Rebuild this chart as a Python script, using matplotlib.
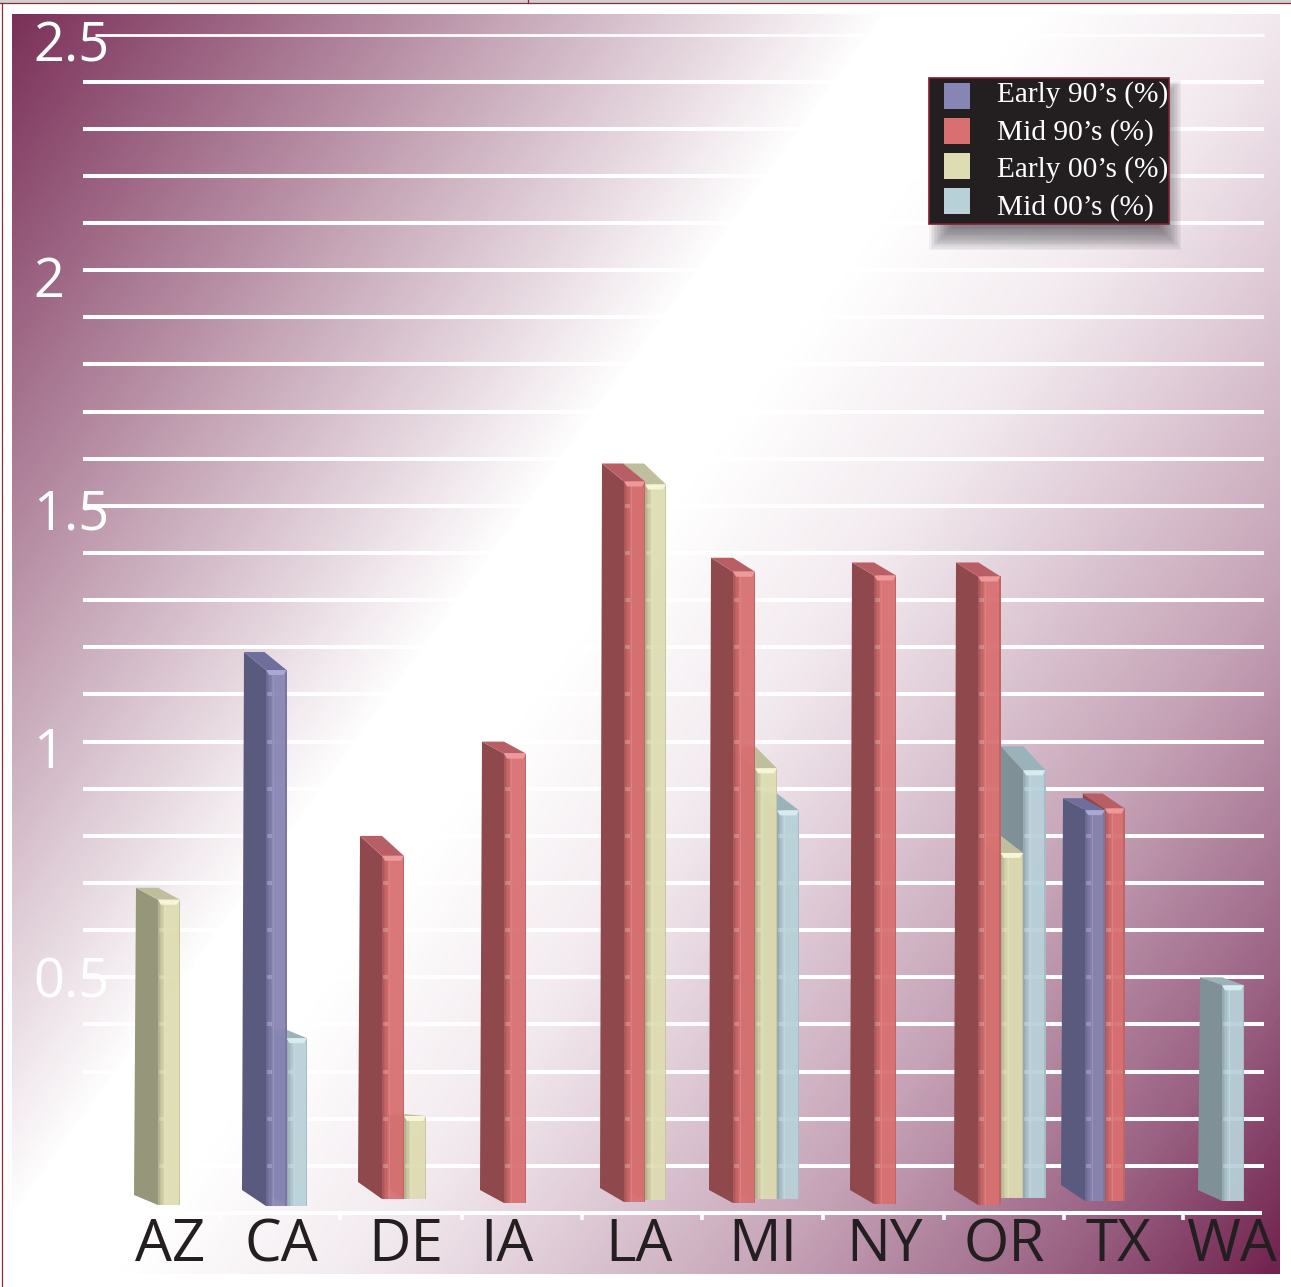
import numpy as np
import matplotlib
matplotlib.use('Agg')
import matplotlib.pyplot as plt
from matplotlib.colors import LinearSegmentedColormap, to_rgb
from matplotlib.patches import Polygon, Rectangle

W, H = 1291, 1287
PX_PER_UNIT = 471.4
ZERO_PX = 1213

states = ['AZ', 'CA', 'DE', 'IA', 'LA', 'MI', 'NY', 'OR', 'TX', 'WA']
nan = float('nan')
early_90s = [nan, 1.19, nan, nan, nan, nan, nan, nan, 0.88, nan]
mid_90s = [nan, nan, 0.80, 1.00, 1.59, 1.39, 1.38, 1.38, 0.89, nan]
early_00s = [0.69, nan, 0.21, nan, 1.59, 0.99, nan, 0.80, nan, nan]
mid_00s = [nan, 0.39, nan, nan, nan, 0.89, nan, 0.99, nan, 0.50]
series_names = ["Early 90’s (%)", "Mid 90’s (%)", "Early 00’s (%)", "Mid 00’s (%)"]
y_ticks = [0.5, 1, 1.5, 2, 2.5]
y_labels = ['0.5', '1', '1.5', '2', '2.5']

series = [early_90s, mid_90s, early_00s, mid_00s]

# layout and style, all in pixels of the picture
front_colors = ['#8785b3', '#d86f70', '#dedcb2', '#b8d1d9']
side_colors = ['#5a5a7e', '#8f494c', '#96967a', '#7f9097']
top_colors = ['#6f6f9e', '#b85f66', '#bfbf9e', '#9ab3ba']
cap_colors = ['#a9a8d2', '#ee9a9c', '#f6f5d8', '#d8ecf0']
group_x = [158, 266, 382, 504, 624, 733, 874, 978, 1085, 1222]
group_w = [22, 20.5, 22, 22, 21, 22, 22, 22.5, 19.8, 22]
group_base = [1205, 1206, 1199, 1203, 1202, 1203, 1204, 1205, 1201, 1201]
group_back = [1195, 1190, 1182, 1190, 1188, 1190, 1190, 1190, 1185, 1190]
later_lift = [0, 0, 0, 0, 2, 4, 0, 7, 0, 0]
label_x = [170, 281, 406, 507, 639, 763, 885, 1004, 1118, 1232]
y_label_drop = [20, 26, 24, 27, 27]
top_drop = [
    [0, 18, 0, 0, 0, 0, 0, 0, 12, 0],
    [0, 0, 20, 12, 18, 14, 13, 14, 15, 0],
    [12, 0, 2, 0, 21, 22, 0, 17, 0, 0],
    [0, 9, 0, 0, 0, 17, 0, 24, 0, 8],
]
DEPTH = 22


def py(p):
    return (ZERO_PX - p) / PX_PER_UNIT


def mix(a, b, t):
    a, b = np.array(to_rgb(a)), np.array(to_rgb(b))
    return tuple(a * (1 - t) + b * t)


def draw_bar(ax, x, w, value, s, drop, base, back, z):
    top_back = value
    top_front = top_back - drop / PX_PER_UNIT
    x0, x1 = x, x + w
    # side
    ax.add_patch(Polygon([(x0 - DEPTH, top_back), (x0, top_front), (x0, py(base)),
                          (x0 - DEPTH - 2, py(back))],
                         fc=side_colors[s], ec='none', zorder=z))
    # top
    ax.add_patch(Polygon([(x0 - DEPTH, top_back), (x1 - DEPTH, top_back), (x1, top_front),
                          (x0, top_front)],
                         fc=top_colors[s], ec='none', zorder=z))
    # front with bevels, a bit see through like the original
    ax.add_patch(Rectangle((x0, py(base)), w, top_front - py(base),
                           fc=front_colors[s], ec='none', alpha=0.94, zorder=z + 0.1))
    for i, t in enumerate([0.65, 0.45, 0.3, 0.15]):
        ax.add_patch(Rectangle((x0 + i * 1.5, py(base)), 1.5, top_front - py(base),
                               fc=mix(front_colors[s], side_colors[s], t), ec='none',
                               alpha=0.9, zorder=z + 0.2))
    ax.add_patch(Rectangle((x1 - 1.5, py(base)), 1.5, top_front - py(base),
                           fc=mix(front_colors[s], side_colors[s], 0.3), ec='none',
                           zorder=z + 0.2))
    ax.add_patch(Rectangle((x0 + 7, py(base)), 1, top_front - py(base),
                           fc=mix(front_colors[s], 'white', 0.12), ec='none', zorder=z + 0.2))
    ax.add_patch(Polygon([(x0, top_front), (x1, top_front),
                          (x1 - 3, top_front - 5 / PX_PER_UNIT),
                          (x0 + 3, top_front - 5 / PX_PER_UNIT)],
                         fc=cap_colors[s], ec='none', zorder=z + 0.3))
    # grid lines show faintly through the bevel
    for g in range(1, 26):
        if g / 10 < top_front - 8 / PX_PER_UNIT and g / 10 > py(base):
            ax.plot([x0 + 1, x0 + 6], [g / 10, g / 10], color='white', lw=2.9, alpha=0.22,
                    solid_capstyle='butt', zorder=z + 0.4)


fig = plt.figure(figsize=(W / 100, H / 100), dpi=100, facecolor='white')
ax = fig.add_axes([0, 0, 1, 1])

# diagonal background
px, py_grid = np.meshgrid(np.arange(12, 1281, 2), np.arange(14, 1275, 2))
t = (px * 0.81 + py_grid * 0.588 - 18) / 1768
cmap = LinearSegmentedColormap.from_list('bg', [(0, '#7b3159'), (0.40, '#ffffff'), (0.47, '#ffffff'),
                                                (0.58, '#f2e9ee'), (0.77, '#c5a2b6'),
                                                (0.90, '#9a6283'), (1, '#71224e')])
ax.imshow(t, cmap=cmap, vmin=0, vmax=1, extent=(12, 1280, py(1274), py(14)), aspect='auto',
          interpolation='bilinear', zorder=0)
ax.set_xlim(0, W)
ax.set_ylim(py(H), py(0))
ax.axis('off')

# page edge
ax.add_patch(Rectangle((0, py(3)), W, py(0) - py(3), fc='#d0d0d0', ec='none', zorder=1))
ax.plot([0, W], [py(3.5), py(3.5)], color='#8a2a3a', lw=0.9, zorder=1)
ax.plot([1.5, 1.5], [py(3.5), py(H)], color='#8a2a3a', lw=0.9, zorder=1)
ax.plot([528, 528], [py(0), py(3.5)], color='#8a2a3a', lw=0.9, zorder=1)

# grid
for g in range(0, 26):
    x_start = 95 if g == 25 else 83
    ax.plot([x_start, 1264 if g else 1262], [g / 10, g / 10], color='white',
            lw=2.0 if g == 25 else 2.9, solid_capstyle='butt', zorder=2)
for x in [220, 340, 462, 582, 702, 823, 944, 1064, 1183]:
    ax.plot([x, x], [0, py(1220)], color='white', lw=2.6, solid_capstyle='butt', zorder=2)

# bars, back series first so the earlier series sit in front
for c, state in enumerate(states):
    present = [s for s in range(4) if not np.isnan(series[s][c])]
    for s in reversed(present):
        pos = present.index(s)
        lift = later_lift[c] if pos else 0
        draw_bar(ax, group_x[c] + pos * group_w[c], group_w[c], series[s][c], s, top_drop[s][c],
                 group_base[c] - lift, group_back[c], 3 + (3 - s))

# axis labels
for v, lab, d in zip(y_ticks, y_labels, y_label_drop):
    ax.text(33, v - d / PX_PER_UNIT, lab, color='white', fontsize=39, family='Open Sans',
            ha='left', va='baseline', zorder=10)
for x, state in zip(label_x, states):
    ax.text(x, py(1261), state, color='#231f20', fontsize=42, family='Open Sans',
            ha='center', va='baseline', zorder=10)

# legend with soft shadow
for i in range(16):
    grow = 12 - i * 1.5
    ax.add_patch(Rectangle((941 - grow, py(238 + grow)), 228 + 2 * grow, (146 + 2 * grow) / PX_PER_UNIT,
                           fc='#3c3c44', ec='none', alpha=0.055, zorder=11))
ax.add_patch(Rectangle((929, py(224)), 240, 146 / PX_PER_UNIT, fc='#231f20', ec='#7d1f2e',
                       lw=1.2, zorder=12))
for i, name in enumerate(series_names):
    top = 83 + i * 35
    ax.add_patch(Rectangle((944, py(top + 26)), 26, 26 / PX_PER_UNIT, fc=front_colors[i], ec='none',
                           zorder=13))
    ax.text(997, py(102 + i * 37.5), name, color='white', fontsize=21.2, family='Liberation Serif',
            ha='left', va='baseline', zorder=13)

fig.savefig('out.png', dpi=100)
